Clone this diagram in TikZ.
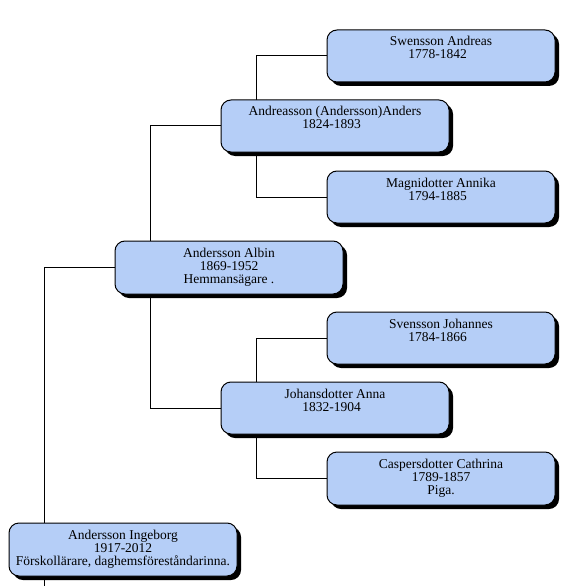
\documentclass[tikz,border=0pt]{standalone}
\usepackage{fontspec}
\setmainfont{Liberation Serif}
\usetikzlibrary{shadows,calc,backgrounds}
\definecolor{boxblue}{RGB}{181,206,247}
\tikzset{
  person/.style={draw=black, line width=1bp, fill=boxblue, rounded corners=10bp,
    anchor=north west, inner sep=0pt, outer sep=0pt,
    drop shadow={shadow xshift=4bp, shadow yshift=-4bp, fill=black, opacity=1}},
  link/.style={draw=black, line width=1bp}
}
\newcommand{\ptext}[2][52bp]{\parbox[t][#1][t]{228bp}{\centering\fontsize{13.5bp}{13bp}\selectfont\rule{0pt}{16bp}#2}}
\newcommand{\yr}[1]{#1\hspace*{7bp}}
\begin{document}
\begin{tikzpicture}[x=1bp,y=-1bp]
\useasboundingbox (0,0) rectangle (579,586);
\node[person] (andreas)  at (327,30)  {\ptext{Swensson Andreas\\\yr{1778-1842}}};
\node[person] (anders)   at (221,100) {\ptext{Andreasson (Andersson)Anders\\\yr{1824-1893}}};
\node[person] (annika)   at (327,171) {\ptext{Magnidotter Annika\\\yr{1794-1885}}};
\node[person] (albin)    at (115,241) {\ptext[53bp]{Andersson Albin\\\yr{1869-1952}\\Hemmansägare .}};
\node[person] (johannes) at (327,312) {\ptext{Svensson Johannes\\\yr{1784-1866}}};
\node[person] (anna)     at (221,382) {\ptext{Johansdotter Anna\\\yr{1832-1904}}};
\node[person] (cathrina) at (327,452) {\ptext[53bp]{Caspersdotter Cathrina\\\yr{1789-1857}\\Piga.}};
\node[person] (ingeborg) at (9,523)   {\ptext[53bp]{Andersson Ingeborg\\\yr{1917-2012}\\Förskollärare, daghemsföreståndarinna.}};
\coordinate (bottomend) at (44,586);
\begin{scope}[on background layer]
\draw[link] (andreas.west)  -| ($(anders.north west)+(35,0)$);
\draw[link] (annika.west)   -| ($(anders.south west)+(35,0)$);
\draw[link] (anders.west)   -| ($(albin.north west)+(35,0)$);
\draw[link] (anna.west)     -| ($(albin.south west)+(35,0)$);
\draw[link] (johannes.west) -| ($(anna.north west)+(35,0)$);
\draw[link] (cathrina.west) -| ($(anna.south west)+(35,0)$);
\draw[link] (albin.west)    -| ($(ingeborg.north west)+(35,0)$);
\draw[link] ($(ingeborg.south west)+(35,0)$) -- (bottomend);
\end{scope}
\end{tikzpicture}
\end{document}
